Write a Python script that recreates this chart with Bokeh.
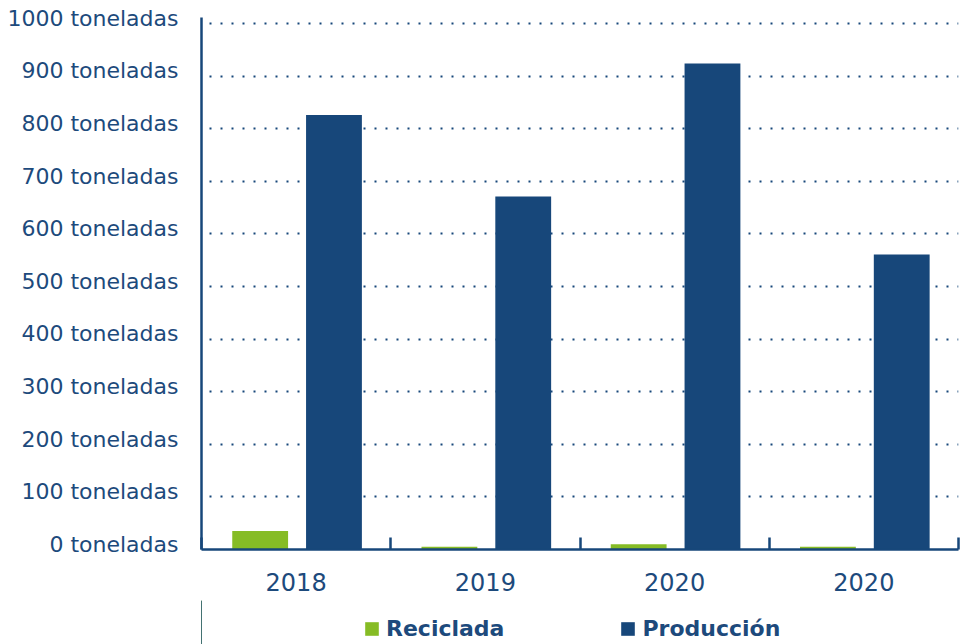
from bokeh.plotting import figure
from bokeh.layouts import column
from bokeh.models import (ColumnDataSource, Range1d, FixedTicker,
                          Legend, LegendItem)
from bokeh.transform import dodge
from bokeh.embed import file_html
from bokeh.resources import INLINE

# Data
categories = ["2018", "2019", "2020", "2020"]
reciclada = [35, 5, 10, 5]
produccion = [826, 671, 924, 561]
y_ticks = [0, 100, 200, 300, 400, 500, 600, 700, 800, 900, 1000]
y_tick_labels = [f"{t} toneladas" for t in y_ticks]
series_names = ["Reciclada", "Producción"]

positions = list(range(1, len(categories) + 1))
source = ColumnDataSource(dict(x=positions, reciclada=reciclada, produccion=produccion))

BLUE = "#17477a"
GREEN = "#86bc25"
TEXT = "#1d4a7c"
FONT = "DejaVu Sans"
LABEL_LIFT = 10  # value units: lifts y labels a few pixels above their gridline

p = figure(width=960, height=600, output_backend="svg", toolbar_location=None,
           x_range=Range1d(0.5, len(categories) + 0.5), y_range=Range1d(0, 1011.4),
           min_border_left=201, min_border_right=2, min_border_top=17, min_border_bottom=51)
p.outline_line_color = None
p.background_fill_color = "white"
p.border_fill_color = "white"

r1 = p.vbar(x=dodge("x", -0.19, range=p.x_range), top="reciclada", width=0.295,
            source=source, fill_color=GREEN, line_color=None)
r2 = p.vbar(x=dodge("x", 0.2, range=p.x_range), top="produccion", width=0.295,
            source=source, fill_color=BLUE, line_color=None)

# X axis
xa = p.xaxis[0]
xa.ticker = FixedTicker(ticks=positions, minor_ticks=[x - 0.5 for x in positions] + [positions[-1] + 0.5])
xa.major_label_overrides = {pos: lab for pos, lab in zip(positions, categories)}
xa.major_tick_line_color = None
xa.minor_tick_in = 12
xa.minor_tick_out = 0
xa.minor_tick_line_color = BLUE
xa.minor_tick_line_width = 2.5
xa.axis_line_color = BLUE
xa.axis_line_width = 2.5
xa.major_label_text_font = FONT
xa.major_label_text_font_size = "24px"
xa.major_label_text_color = TEXT
xa.major_label_standoff = 17

# Y axis (labels slightly above the gridlines, as in the reference)
ya = p.yaxis[0]
ya.ticker = FixedTicker(ticks=[t + LABEL_LIFT for t in y_ticks])
ya.major_label_overrides = {t + LABEL_LIFT: lab for t, lab in zip(y_ticks, y_tick_labels)}
ya.major_tick_line_color = None
ya.minor_tick_line_color = None
ya.axis_line_color = BLUE
ya.axis_line_width = 2.5
ya.major_label_text_font = FONT
ya.major_label_text_font_size = "22px"
ya.major_label_text_color = TEXT
ya.major_label_standoff = 17

p.xgrid.grid_line_color = None
p.ygrid.ticker = FixedTicker(ticks=y_ticks)
p.ygrid.grid_line_color = BLUE
p.ygrid.grid_line_width = 2.2
p.ygrid.grid_line_dash = "2 9"
p.ygrid.grid_line_dash_offset = -8

# Legend strip below the chart
lg = figure(width=960, height=44, output_backend="svg", toolbar_location=None,
            x_axis_type=None, y_axis_type=None,
            x_range=Range1d(100, 101), y_range=Range1d(0, 1),
            min_border_left=0, min_border_right=0, min_border_top=0, min_border_bottom=0)
lg.outline_line_color = None
lg.grid.visible = False
lg.background_fill_color = "white"
lg.border_fill_color = "white"
d1 = lg.vbar(x="x", top="reciclada", width=0.1, source=source, fill_color=GREEN, line_color=None)
d2 = lg.vbar(x="x", top="produccion", width=0.1, source=source, fill_color=BLUE, line_color=None)
legend = Legend(items=[LegendItem(label=series_names[0], renderers=[d1]),
                       LegendItem(label=series_names[1], renderers=[d2])],
                orientation="horizontal", location=(162, 3),
                label_text_font=FONT, label_text_font_size="22px", label_text_font_style="bold",
                label_text_color=TEXT, glyph_width=17, glyph_height=17, label_standoff=6,
                spacing=115, border_line_color=None, background_fill_alpha=0,
                padding=0, margin=0)
lg.add_layout(legend, "center")

layout = column(p, lg, spacing=0)
open("out.html", "w").write(file_html(layout, INLINE))
